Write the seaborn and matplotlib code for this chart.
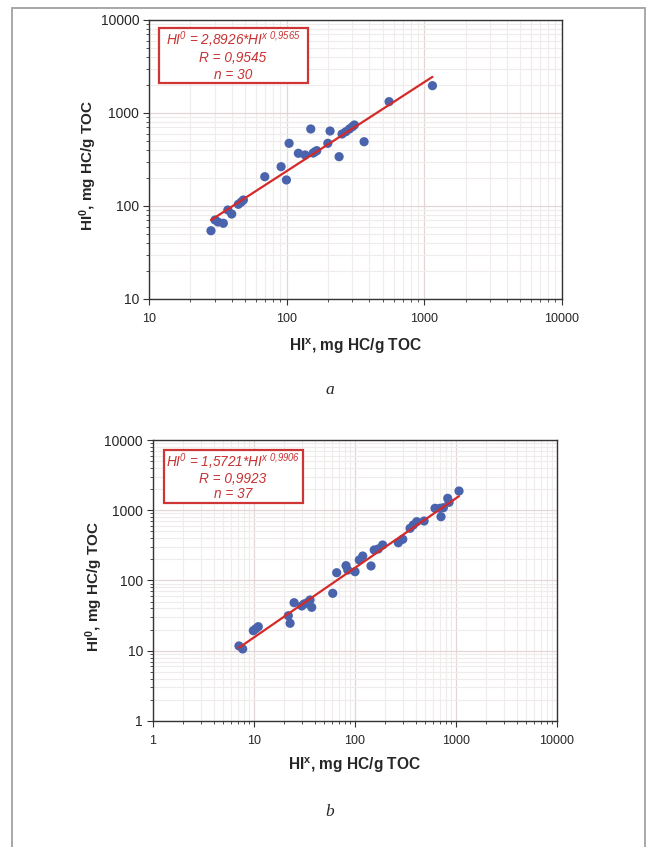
import numpy as np
import pandas as pd
import matplotlib
matplotlib.use("Agg")
import matplotlib.pyplot as plt
from matplotlib.ticker import LogLocator, FuncFormatter, NullFormatter
from matplotlib.patches import Rectangle
from matplotlib.lines import Line2D
import seaborn as sns

# ---------------- data (a) ----------------
hix_a = [28.2, 30.2, 34.7, 37.4, 39.9, 44.6, 48.5, 69.4, 91.2, 99.7,
         104.3, 121.8, 136.3, 149.9, 161.2, 165.8, 199.4, 207.1, 240.9, 269.6,
         286.3, 301.0, 311.0, 366.0, 556.0, 1149.0, 46.7, 31.7, 253.0, 156.0]
hi0_a = [54.2, 70.7, 65.2, 90.6, 82.0, 104.2, 116.0, 206.5, 264.6, 190.5,
         472.0, 368.7, 353.4, 673.0, 383.7, 393.2, 472.0, 640.0, 339.0, 629.5,
         673.0, 712.0, 743.0, 491.0, 1324.0, 1966.0, 110.0, 67.3, 594.0, 371.0]
coef_a = [2.8926, 0.9565]
stats_a = ["2,8926", "0,9565", "0,9545", "30"]

# ---------------- data (b) ----------------
hix_b = [7.15, 7.78, 9.91, 11.1, 22.0, 22.9, 25.1, 29.9, 33.9, 36.1,
         37.5, 60.6, 66.3, 82.0, 85.3, 100.7, 111.0, 120.0, 145.0, 156.0,
         171.0, 189.0, 270.0, 299.0, 353.0, 411.0, 486.0, 624.0, 699.0, 715.0,
         833.0, 859.0, 1078.0, 380.0, 10.5, 754.0, 31.5]
hi0_b = [11.7, 10.6, 19.3, 22.0, 31.5, 24.6, 48.3, 43.4, 48.3, 52.8,
         41.5, 65.7, 129.0, 162.5, 141.0, 133.4, 196.0, 223.0, 161.0, 272.0,
         281.0, 320.0, 345.0, 386.0, 553.0, 687.0, 703.0, 1066.0, 1066.0, 809.0,
         1479.0, 1298.0, 1879.0, 617.0, 20.6, 1087.0, 46.3]
coef_b = [1.5721, 0.9906]
stats_b = ["1,5721", "0,9906", "0,9923", "37"]

xlabel = r"HI$^{x}$, mg HC/g TOC"
ylabel = r"HI$^{0}$, mg HC/g TOC"

# ---------------- style ----------------
sns.set_style("white")
plt.rcParams["font.family"] = ["Liberation Sans", "DejaVu Sans"]
plt.rcParams["mathtext.default"] = "regular"

PT_COLOR = "#4a63ad"
LINE_COLOR = "#d42a2a"
BOX_COLOR = "#d03535"
TEXT_COLOR = "#c83232"

fig = plt.figure(figsize=(6.46, 8.47), dpi=100)

ax_a = fig.add_axes([0.2307, 0.6470, 0.6388, 0.3294])
ax_b = fig.add_axes([0.2364, 0.1488, 0.6254, 0.3317])


def fmt(v, pos):
    return f"{int(round(v))}"


def draw(ax, hix, hi0, coef, stats, xlim, ylim, box, tx, ty, xpad, ylab_x):
    df = pd.DataFrame({"x": hix, "y": hi0})
    ax.set_xscale("log")
    ax.set_yscale("log")
    ax.set_xlim(*xlim)
    ax.set_ylim(*ylim)
    xs = np.geomspace(min(hix), max(hix), 50)
    ys = coef[0] * xs ** coef[1]
    sns.scatterplot(data=df, x="x", y="y", ax=ax, color=PT_COLOR, s=44,
                    edgecolor="none", zorder=3)
    sns.lineplot(x=xs, y=ys, ax=ax, color=LINE_COLOR, lw=1.6, zorder=4)

    for axis in (ax.xaxis, ax.yaxis):
        axis.set_major_locator(LogLocator(base=10, numticks=10))
        axis.set_minor_locator(LogLocator(base=10, subs=np.arange(2, 10), numticks=100))
        axis.set_major_formatter(FuncFormatter(fmt))
        axis.set_minor_formatter(NullFormatter())
    ax.grid(which="major", color="#e3d6d6", lw=0.9, zorder=0)
    ax.grid(which="minor", color="#f1ecec", lw=0.8, zorder=0)
    ax.set_axisbelow(True)
    for sp in ax.spines.values():
        sp.set_color("#333333")
        sp.set_linewidth(1.0)
    ax.tick_params(which="major", direction="out", length=4, width=0.8,
                   color="#333333", pad=4,
                   left=True, bottom=True, top=False, right=False)
    ax.tick_params(axis="x", which="major", labelsize=9, pad=6)
    ax.tick_params(axis="y", which="major", labelsize=10, pad=3)
    ax.tick_params(which="minor", direction="out", length=2.5, width=0.6,
                   color="#333333", left=True, bottom=True, top=False, right=False)
    ax.set_xlabel(xlabel, fontsize=11.2, fontweight="bold", labelpad=xpad)
    ax.set_ylabel(ylabel, fontsize=11, fontweight="bold")
    ax.yaxis.set_label_coords(ylab_x, 0.48)

    x0, y0, x1, y1 = box
    ax.add_patch(Rectangle((x0, y0), x1 - x0, y1 - y0, transform=ax.transAxes,
                           facecolor="white", edgecolor=BOX_COLOR, lw=1.6,
                           zorder=5))
    lines = [
        r"HI$^{0}$ = " + stats[0] + r"*HI$^{x\ " + stats[1].replace(",", "{,}") + "}$",
        "R = " + stats[2],
        "n = " + stats[3],
    ]
    for t, yy in zip(lines, ty):
        ax.text(tx, yy, t, transform=ax.transAxes, ha="center", va="center",
                fontsize=9.8, style="italic", color=TEXT_COLOR, zorder=6)


draw(ax_a, hix_a, hi0_a, coef_a, stats_a, (10, 10000), (10, 10000),
     (0.0242, 0.774, 0.385, 0.971), 0.2035, (0.930, 0.864, 0.803), 8, -0.122)
draw(ax_b, hix_b, hi0_b, coef_b, stats_b, (1, 10000), (1, 10000),
     (0.028, 0.776, 0.372, 0.964), 0.199, (0.922, 0.862, 0.808), 6, -0.117)

fig.text(0.511, 0.5395, "a", fontsize=12.5, style="italic",
         family=["Liberation Serif"], ha="center", va="center")
fig.text(0.511, 0.0413, "b", fontsize=12.5, style="italic",
         family=["Liberation Serif"], ha="center", va="center")

# page border
bc = "#a8a8a8"
fig.add_artist(Line2D([0.0186, 0.0186], [0.0, 0.990], color=bc, lw=1.4,
                      transform=fig.transFigure))
fig.add_artist(Line2D([0.0186, 0.9992], [0.990, 0.990], color=bc, lw=1.4,
                      transform=fig.transFigure))
fig.add_artist(Line2D([0.9992, 0.9992], [0.0, 0.990], color=bc, lw=1.4,
                      transform=fig.transFigure))

fig.savefig("out.png", dpi=100)
